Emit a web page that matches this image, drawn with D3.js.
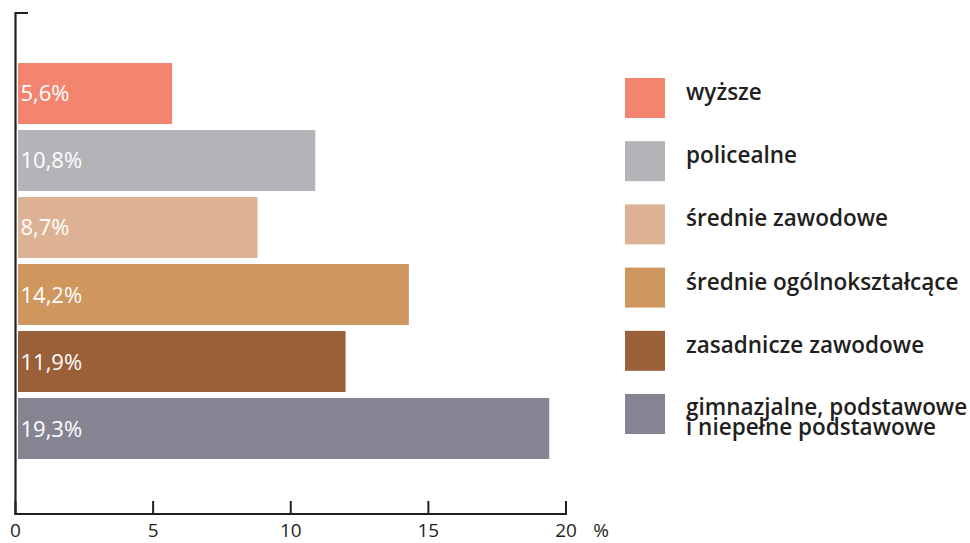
<!DOCTYPE html>
<html>
<head>
<meta charset="utf-8">
<script src="https://cdn.jsdelivr.net/npm/d3@7"></script>
<style>
  body { margin: 0; background: #fff; }
  text { font-family: "Open Sans", "DejaVu Sans", sans-serif; }
</style>
</head>
<body>
<svg id="chart" width="970" height="543"></svg>
<script>
const categories = ["wyższe", "policealne", "średnie zawodowe", "średnie ogólnokształcące", "zasadnicze zawodowe", "gimnazjalne, podstawowe\ni niepełne podstawowe"];
const values = [5.6, 10.8, 8.7, 14.2, 11.9, 19.3];
const colors = ["#f3846f", "#b4b3b8", "#ddb294", "#cf975e", "#9a603a", "#858492"];
const ticks = [0, 5, 10, 15, 20];

const svg = d3.select("#chart");
const ink = "#231f20";

const x = d3.scaleLinear().domain([0, 20]).range([15.5, 566]);
const y = d3.scaleBand().domain(d3.range(values.length)).range([63, 459]).paddingInner(0.09).paddingOuter(0);

// bars
svg.selectAll("rect.bar").data(values).join("rect")
  .attr("class", "bar")
  .attr("x", x(0) + 2.5)
  .attr("y", (d, i) => y(i))
  .attr("width", d => x(d) - x(0))
  .attr("height", y.bandwidth())
  .attr("fill", (d, i) => colors[i]);

svg.selectAll("text.val").data(values).join("text")
  .attr("class", "val")
  .attr("x", x(0) + 5)
  .attr("y", (d, i) => y(i) + y.bandwidth() / 2 + 8)
  .attr("fill", "#fff")
  .attr("font-size", 22)
  .attr("font-weight", 500)
  .text(d => d.toFixed(1).replace(".", ",") + "%");

// x axis
const gx = svg.append("g").attr("transform", "translate(0,514)");
gx.append("line").attr("x1", x(0)).attr("x2", x(20)).attr("stroke", ink).attr("stroke-width", 2.2);
gx.selectAll("line.tk").data(ticks).join("line")
  .attr("class", "tk")
  .attr("x1", d => x(d)).attr("x2", d => x(d))
  .attr("y1", 1).attr("y2", -13)
  .attr("stroke", ink).attr("stroke-width", 2);
gx.selectAll("text.tl").data(ticks).join("text")
  .attr("class", "tl")
  .attr("x", d => x(d)).attr("y", 23)
  .attr("text-anchor", "middle")
  .attr("font-size", 19)
  .attr("fill", ink)
  .text(d => d);
gx.append("text").attr("x", 601).attr("y", 23).attr("text-anchor", "middle")
  .attr("font-size", 19).attr("fill", ink).text("%");

// y axis line
svg.append("path")
  .attr("d", `M${x(0)},515 V13 H28`)
  .attr("fill", "none").attr("stroke", ink).attr("stroke-width", 2.2);

// legend
const ly = d3.scaleLinear().domain([0, 5]).range([78, 394]);
const lg = svg.append("g");
lg.selectAll("rect").data(categories).join("rect")
  .attr("x", 625).attr("y", (d, i) => ly(i))
  .attr("width", 40).attr("height", 40)
  .attr("fill", (d, i) => colors[i]);
lg.selectAll("text").data(categories).join("text")
  .attr("x", 686).attr("y", (d, i) => ly(i) + 22)
  .attr("font-size", 22.5).attr("font-weight", 600).attr("fill", ink)
  .each(function(d) {
    const lines = d.split("\n");
    d3.select(this).selectAll("tspan").data(lines).join("tspan")
      .attr("x", 686).attr("dy", (l, j) => j === 0 ? (lines.length > 1 ? -1 : 0) : 20)
      .text(l => l);
  });
</script>
</body>
</html>
